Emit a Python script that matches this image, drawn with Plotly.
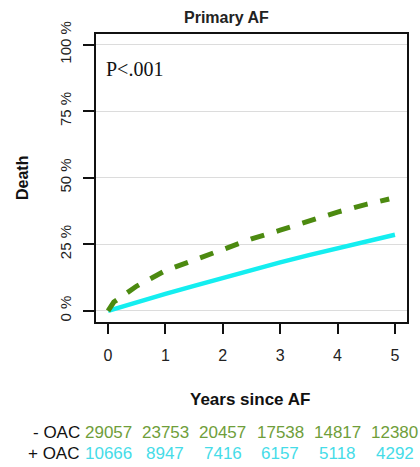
import plotly.graph_objects as go

# Data
years = [0, 0.1, 0.25, 0.5, 1, 1.5, 2, 2.5, 3, 3.5, 4, 4.5, 4.9]
no_oac = [0, 3.3, 5.5, 9.3, 15.1, 19.0, 23.2, 27.0, 30.3, 33.8, 37.1, 40.0, 42.0]
years_oac = [0, 0.5, 1, 1.5, 2, 2.5, 3, 3.5, 4, 4.5, 5]
with_oac = [0, 3.3, 6.4, 9.4, 12.4, 15.3, 18.2, 20.9, 23.6, 26.2, 28.6]

tick_years = [0, 1, 2, 3, 4, 5]
y_ticks = [0, 25, 50, 75, 100]
y_ticktext = ["0 %", "25 %", "50 %", "75 %", "100 %"]
risk_no_oac = ["29057", "23753", "20457", "17538", "14817", "12380"]
risk_oac = ["10666", "8947", "7416", "6157", "5118", "4292"]

GREEN = "#4c8a10"
CYAN = "#14eef0"
GREEN_TXT = "#6f9e3a"
CYAN_TXT = "#45dce8"

# Plot area pixel geometry (for paper-coord conversions)
L, R, T, B = 96, 13, 34, 145
W, H = 420, 467
PW, PH = W - L - R, H - T - B
X0, X1 = -0.21, 5.21


def px_x(x):
    return (x - L) / PW


def px_y(y):
    return (H - B - y) / PH


def data_x(v):
    return (v - X0) / (X1 - X0)


fig = go.Figure()
fig.add_trace(go.Scatter(x=years_oac, y=with_oac, mode="lines",
                         line=dict(color=CYAN, width=4.5), hoverinfo="skip"))
fig.add_trace(go.Scatter(x=years, y=no_oac, mode="lines",
                         line=dict(color=GREEN, width=5, dash="14px,13px"),
                         hoverinfo="skip"))

FONT = "Liberation Sans, Arial"
ann = []


def add(text, x, y, size, color="#111", xanchor="center", angle=0, family=FONT):
    ann.append(dict(text=text, x=x, y=y, xref="paper", yref="paper", xanchor=xanchor,
                    yanchor="middle", showarrow=False, textangle=angle,
                    font=dict(size=size, color=color, family=family)))


add("<b>Primary AF</b>", px_x(226), px_y(17), 16, "#222")
add("<b>Death</b>", px_x(22), px_y(178), 16, angle=-90)
add("<b>Years since AF</b>", px_x(250), px_y(399), 17)
add("P<.001", px_x(104), px_y(69), 20, xanchor="left",
    family="Liberation Serif, Times New Roman")

rows = [px_y(432), px_y(453)]
add("- OAC", data_x(-0.45), rows[0], 17, xanchor="right")
add("+ OAC", data_x(-0.45), rows[1], 17, xanchor="right")
for xv, a, b in zip(tick_years, risk_no_oac, risk_oac):
    add(a, data_x(xv), rows[0], 17, GREEN_TXT)
    add(b, data_x(xv), rows[1], 17, CYAN_TXT)

fig.update_layout(
    width=W, height=H,
    margin=dict(l=L, r=R, t=T, b=B),
    paper_bgcolor="white", plot_bgcolor="white",
    showlegend=False,
    annotations=ann,
    xaxis=dict(range=[X0, X1], tickvals=tick_years, ticks="outside", ticklen=10,
               tickcolor="#111", tickwidth=1.5, showline=True, mirror=True,
               linecolor="#111", linewidth=1.5, showgrid=False, zeroline=False,
               ticklabelstandoff=8,
               tickfont=dict(size=16, color="#222", family=FONT)),
    yaxis=dict(range=[-4.2, 104], tickvals=y_ticks, ticktext=y_ticktext, ticks="outside",
               ticklen=11, tickcolor="#111", tickwidth=1.5, showline=True, mirror=True,
               linecolor="#111", linewidth=1.5, showgrid=True, gridcolor="#dcdcdc",
               gridwidth=1.2, zeroline=False, tickangle=-90, ticklabelstandoff=6,
               tickfont=dict(size=15, color="#222", family=FONT)),
)

fig.write_html("out.html")
